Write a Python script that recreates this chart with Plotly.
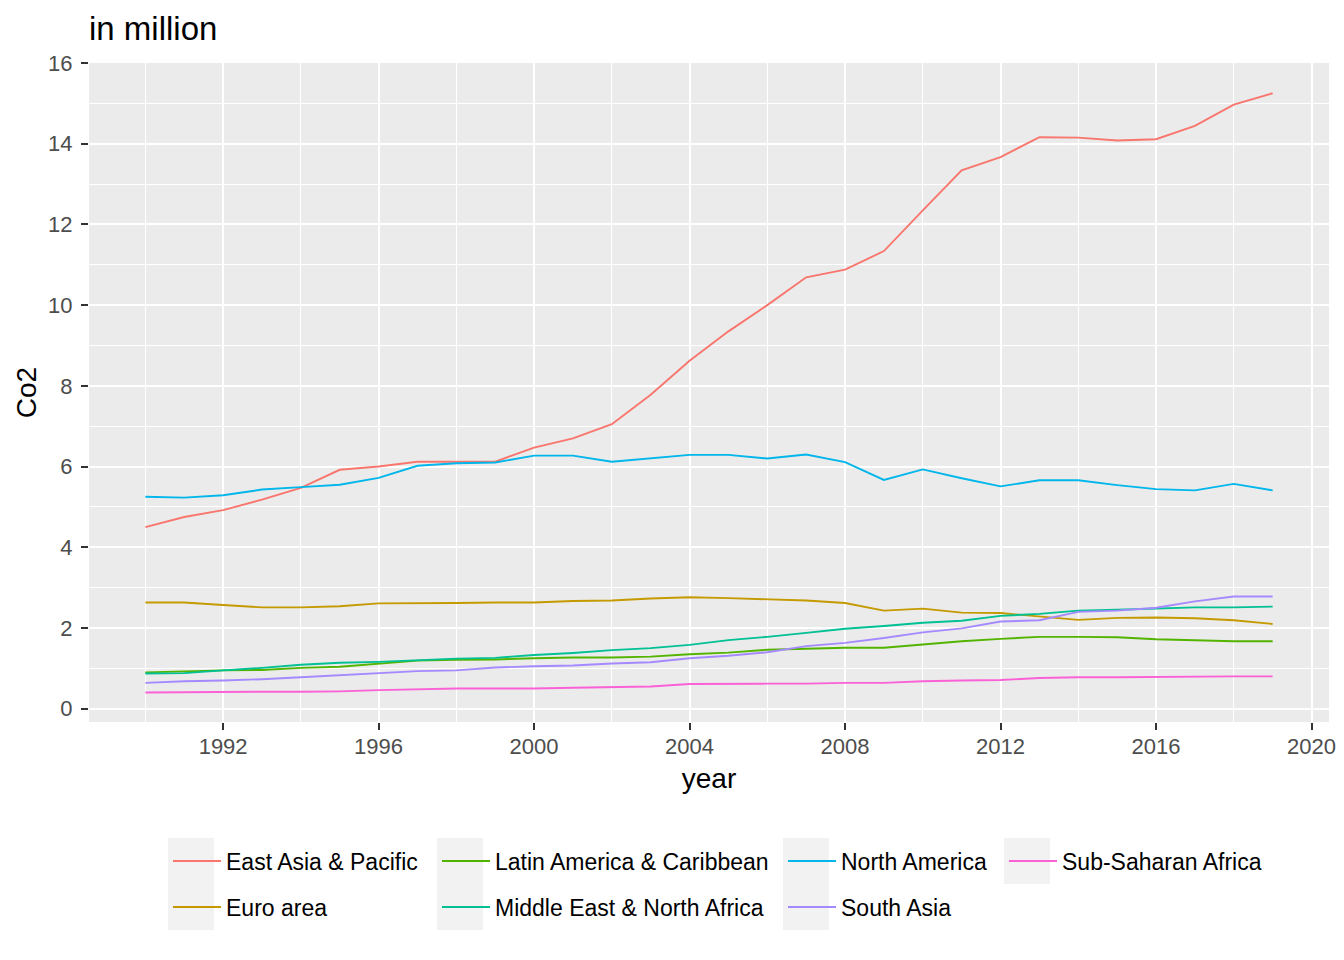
import plotly.graph_objects as go

years = list(range(1990, 2020))

east_asia = [4.50, 4.75, 4.92, 5.18, 5.47, 5.92, 6.00, 6.12, 6.12, 6.12,
             6.47, 6.70, 7.05, 7.78, 8.62, 9.35, 10.00, 10.69, 10.88, 11.34,
             12.35, 13.34, 13.67, 14.16, 14.15, 14.08, 14.11, 14.44, 14.97, 15.25]
euro_area = [2.63, 2.63, 2.57, 2.51, 2.51, 2.54, 2.61, 2.61, 2.62, 2.63,
             2.63, 2.67, 2.68, 2.73, 2.76, 2.74, 2.71, 2.68, 2.62, 2.43,
             2.48, 2.38, 2.37, 2.29, 2.20, 2.25, 2.26, 2.24, 2.19, 2.10]
latin_america = [0.90, 0.93, 0.95, 0.96, 1.01, 1.04, 1.12, 1.19, 1.21, 1.22,
                 1.25, 1.27, 1.27, 1.29, 1.35, 1.39, 1.46, 1.49, 1.51, 1.51,
                 1.59, 1.67, 1.73, 1.78, 1.78, 1.77, 1.72, 1.69, 1.67, 1.67]
middle_east = [0.87, 0.88, 0.95, 1.01, 1.09, 1.14, 1.16, 1.20, 1.24, 1.26,
               1.33, 1.38, 1.45, 1.50, 1.58, 1.70, 1.78, 1.88, 1.98, 2.05,
               2.13, 2.18, 2.30, 2.35, 2.43, 2.45, 2.48, 2.51, 2.51, 2.53]
north_america = [5.25, 5.23, 5.29, 5.43, 5.49, 5.55, 5.72, 6.02, 6.08, 6.10,
                 6.27, 6.27, 6.12, 6.20, 6.29, 6.29, 6.20, 6.30, 6.11, 5.67,
                 5.93, 5.71, 5.51, 5.66, 5.66, 5.54, 5.44, 5.41, 5.57, 5.41]
south_asia = [0.64, 0.68, 0.70, 0.73, 0.78, 0.83, 0.88, 0.93, 0.95, 1.02,
              1.05, 1.07, 1.12, 1.15, 1.25, 1.31, 1.40, 1.55, 1.63, 1.75,
              1.89, 1.99, 2.16, 2.19, 2.40, 2.43, 2.50, 2.66, 2.78, 2.78]
sub_saharan = [0.40, 0.41, 0.42, 0.42, 0.42, 0.43, 0.46, 0.48, 0.50, 0.50,
               0.50, 0.52, 0.54, 0.55, 0.61, 0.62, 0.62, 0.62, 0.64, 0.64,
               0.68, 0.70, 0.71, 0.76, 0.78, 0.78, 0.79, 0.80, 0.80, 0.80]

region_names = ["East Asia & Pacific", "Euro area", "Latin America & Caribbean",
                "Middle East & North Africa", "North America", "South Asia",
                "Sub-Saharan Africa"]
region_values = [east_asia, euro_area, latin_america, middle_east,
                 north_america, south_asia, sub_saharan]
colors = ["#F8766D", "#C49A00", "#53B400", "#00C094", "#00B6EB", "#A58AFF", "#FB61D7"]

x_ticks = [1992, 1996, 2000, 2004, 2008, 2012, 2016, 2020]
y_ticks = [0, 2, 4, 6, 8, 10, 12, 14, 16]

FONT = "Liberation Sans, Arial, sans-serif"

# layout geometry (pixels)
W, H = 1344, 960
PL, PR, PT, PB = 89, 1329, 63, 722


def px_to_paper_x(px):
    return (px - PL) / (PR - PL)


def px_to_paper_y(py):
    return (PB - py) / (PB - PT)


# legend cells: (column left px, row center py)
col_left = [168, 437, 783, 1004]
row_center = [861, 907]
legend_cells = [(0, 0), (0, 1), (1, 0), (1, 1), (2, 0), (2, 1), (3, 0)]

fig = go.Figure()
layout_legends = {}
for i, (name, vals, col) in enumerate(zip(region_names, region_values, colors)):
    lname = "legend" if i == 0 else f"legend{i + 1}"
    fig.add_trace(go.Scatter(
        x=years, y=vals, mode="lines", name=name,
        line=dict(color=col, width=1.9),
        legend=lname, showlegend=True,
    ))
    c, r = legend_cells[i]
    layout_legends[lname] = dict(
        x=px_to_paper_x(col_left[c]), xanchor="left",
        y=px_to_paper_y(row_center[r]), yanchor="middle",
        bgcolor="rgba(0,0,0,0)", borderwidth=0,
        font=dict(family=FONT, size=23, color="#000000"),
        itemwidth=48, orientation="v", visible=True,
    )

# grey legend key backgrounds
key_bg = [(168, 214, 838, 930), (437, 483, 838, 930), (783, 829, 838, 930), (1004, 1050, 838, 884)]
shapes = []
for x0, x1, y0, y1 in key_bg:
    shapes.append(dict(type="rect", xref="paper", yref="paper",
                       x0=px_to_paper_x(x0), x1=px_to_paper_x(x1),
                       y0=px_to_paper_y(y0), y1=px_to_paper_y(y1),
                       fillcolor="#F2F2F2", line=dict(width=0), layer="below"))

axis_common = dict(
    showline=False, zeroline=False,
    ticks="outside", ticklen=7, tickwidth=1.6, tickcolor="#333333",
    tickfont=dict(family=FONT, size=22, color="#4D4D4D"),
    showgrid=True, gridcolor="#FFFFFF", gridwidth=2,
)

fig.update_layout(
    width=W, height=H,
    showlegend=True,
    margin=dict(l=PL, r=W - PR, t=PT, b=H - PB, autoexpand=False),
    paper_bgcolor="#FFFFFF", plot_bgcolor="#EBEBEB",
    font=dict(family=FONT, color="#000000"),
    title=dict(text="in million", x=0, xref="paper", xanchor="left",
               y=1 - 28 / H, yref="container", yanchor="middle",
               font=dict(family=FONT, size=33, color="#000000")),
    xaxis=dict(range=[1988.55, 2020.45], tickvals=x_ticks,
               ticktext=[str(t) for t in x_ticks],
               minor=dict(dtick=2, tick0=1990, showgrid=True, gridcolor="#FFFFFF", gridwidth=1, ticks=""),
               title=dict(text="year", standoff=9, font=dict(family=FONT, size=28, color="#000000")),
               ticklabelstandoff=-2,
               **axis_common),
    yaxis=dict(range=[-0.33, 16.0], tickvals=y_ticks,
               ticktext=[str(t) for t in y_ticks],
               minor=dict(dtick=1, tick0=0, showgrid=True, gridcolor="#FFFFFF", gridwidth=1, ticks=""),
               title=dict(text="Co2", standoff=3, font=dict(family=FONT, size=28, color="#000000")),
               ticklabelstandoff=4,
               **axis_common),
    shapes=shapes,
    **layout_legends,
)

fig.write_html(
    "out.html",
    config={"displayModeBar": False},
    post_script="document.body.style.margin='0px';document.body.style.padding='0px';",
)
